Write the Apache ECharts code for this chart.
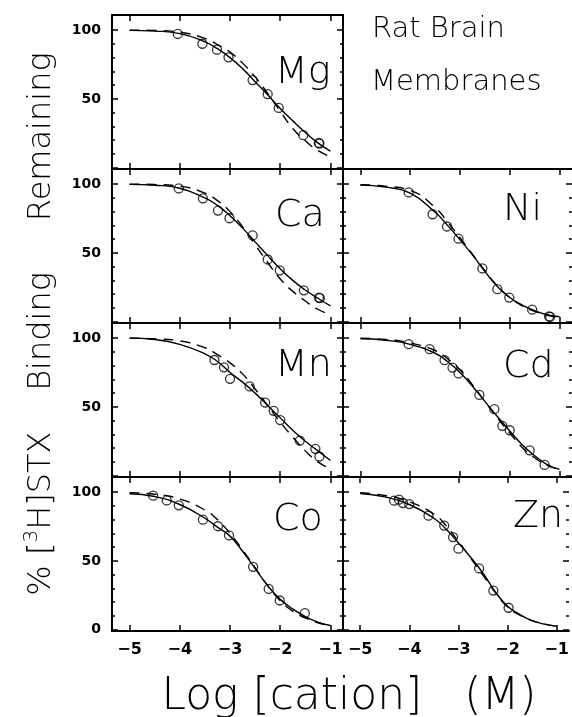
<!DOCTYPE html>
<html><head><meta charset="utf-8">
<script src="https://cdn.jsdelivr.net/npm/echarts@6/dist/echarts.min.js"></script>
<style>html,body{margin:0;padding:0;background:#fff}#c{width:572px;height:717px}</style>
</head><body><div id="c"></div>
<script>
// ---- data ----
const CURVE_X = [-5, -4.5, -4, -3.5, -3.25, -3, -2.75, -2.5, -2.25, -2, -1.75, -1.5, -1.25, -1];
const X_TICKS = [-5, -4, -3, -2, -1];
const Y_MAJOR = [0, 50, 100];
const Y_MINOR = [10, 20, 30, 40, 60, 70, 80, 90];

const MG_X = [-4.04, -3.55, -3.26, -3.03, -2.55, -2.25, -2.03, -1.54, -1.22, -1.23];
const MG_Y = [97.2, 90.1, 85.8, 80.2, 63.7, 53.5, 43.4, 23.6, 17.5, 18.0];
const MG_SOLID = [99.8, 99.3, 97.5, 91.5, 86.5, 80, 72, 62.5, 53, 43, 34, 25.5, 18, 12];
const MG_DASH = [100, 99.8, 98.5, 94, 89.5, 84, 76, 66, 54, 41, 28.5, 19.5, 12.5, 8];

const CA_X = [-4.02, -3.54, -3.24, -3.01, -2.55, -2.25, -2.01, -1.53, -1.21, -1.23];
const CA_Y = [96.9, 89.7, 80.8, 75.2, 62.7, 45.2, 37.3, 22.8, 17.1, 17.5];
const CA_SOLID = [99.8, 99.2, 97, 90, 84.5, 77, 68, 58, 48, 38.5, 30, 23, 17, 11.5];
const CA_DASH = [100, 99.7, 98.5, 93.5, 88, 80, 69, 56, 43, 31, 22, 15, 9, 5];

const NI_X = [-4.03, -3.55, -3.26, -3.03, -2.55, -2.25, -2.01, -1.55, -1.21, -1.19];
const NI_Y = [94.0, 78.1, 69.2, 60.3, 38.7, 23.6, 17.5, 8.7, 3.8, 3.4];
const NI_SOLID = [99.3, 97.8, 93.5, 79.5, 70, 59.5, 48.5, 36.5, 25.5, 17.5, 12, 8, 5, 3.5];
const NI_DASH = [99.5, 98.5, 95.5, 83, 72.5, 61, 49, 37, 26, 17.5, 11.5, 7.5, 4.5, 3];

const MN_X = [-3.31, -3.12, -3.0, -2.61, -2.30, -2.13, -2.0, -1.61, -1.30, -1.22];
const MN_Y = [84.1, 78.8, 70.4, 64.9, 53.1, 47.1, 40.4, 25.5, 19.5, 13.9];
const MN_SOLID = [100, 99, 95.5, 88.5, 83, 75, 68, 60, 51, 42, 33, 25, 18, 11];
const MN_DASH = [100, 99.5, 98, 93, 88, 82, 74, 63, 51, 39, 28, 18, 10, 5];

const CD_X = [-4.03, -3.61, -3.31, -3.15, -3.03, -2.61, -2.31, -2.15, -2.0, -1.6, -1.3];
const CD_Y = [95.6, 92.0, 84.0, 78.6, 74.3, 58.7, 48.3, 36.2, 33.0, 18.4, 7.8];
const CD_SOLID = [99.5, 98.5, 95.5, 89, 83, 75, 65, 54, 43, 32.5, 22.5, 14.5, 8, 4.5];
const CD_DASH = [100, 99, 96.5, 91, 85, 77, 66, 54, 42, 31, 20.5, 13, 7.5, 4.5];

const CO_X = [-4.53, -4.26, -4.02, -3.54, -3.24, -3.02, -2.54, -2.23, -2.01, -1.51];
const CO_Y = [97.4, 94.0, 90.4, 80.0, 75.2, 68.5, 45.7, 29.6, 21.2, 12.0];
const CO_SOLID = [98.8, 96.8, 91, 81, 74.5, 68, 57, 44.5, 32, 22, 15, 9.5, 5.5, 3];
const CO_DASH = [99.5, 98.5, 95, 87, 80, 70, 58, 45, 32, 21, 13.5, 8.5, 5, 3];

const ZN_X = [-4.31, -4.21, -4.13, -4.0, -3.61, -3.29, -3.11, -3.0, -2.58, -2.29, -1.98];
const ZN_Y = [93.8, 94.5, 92.1, 91.3, 82.9, 75.7, 67.3, 58.9, 44.5, 28.4, 15.9];
const ZN_SOLID = [99, 96.5, 91, 81, 73, 63, 52.5, 41, 27.5, 17, 11, 6.5, 4, 2.5];
const ZN_DASH = [99.5, 97.5, 93, 84, 75.5, 64, 52, 39.5, 27, 16.5, 10.5, 6.5, 4, 2.5];

// ---- layout ----
const XMIN = -5.35, XMAX = -0.75, YMIN = -1, YMAX = 111;
const ROW_TOP = [15, 169, 323, 477], ROW_H = 154;
const COL_LEFT = [112, 343], COL_W = [231, 232];

const panels = [
  {name: 'Mg', row: 0, col: 0, px: MG_X, py: MG_Y, solid: MG_SOLID, dash: MG_DASH, lx: 275, ly: 73.5},
  {name: 'Ca', row: 1, col: 0, px: CA_X, py: CA_Y, solid: CA_SOLID, dash: CA_DASH, lx: 275, ly: 216},
  {name: 'Ni', row: 1, col: 1, px: NI_X, py: NI_Y, solid: NI_SOLID, dash: NI_DASH, lx: 503, ly: 210},
  {name: 'Mn', row: 2, col: 0, px: MN_X, py: MN_Y, solid: MN_SOLID, dash: MN_DASH, lx: 275, ly: 366},
  {name: 'Cd', row: 2, col: 1, px: CD_X, py: CD_Y, solid: CD_SOLID, dash: CD_DASH, lx: 503, ly: 367.5},
  {name: 'Co', row: 3, col: 0, px: CO_X, py: CO_Y, solid: CO_SOLID, dash: CO_DASH, lx: 273, ly: 520.5},
  {name: 'Zn', row: 3, col: 1, px: ZN_X, py: ZN_Y, solid: ZN_SOLID, dash: ZN_DASH, lx: 513, ly: 517.5}
];

const TICK_FONT = 'DejaVu Sans';
const THIN_FONT = 'DejaVu Sans';
const tickLine = {color: '#000', width: 1.5};
const grid = [], xAxis = [], yAxis = [], series = [], graphic = [];

panels.forEach((p, i) => {
  // grid border drawn manually (left/top/bottom always; right only for left column)
  grid.push({left: COL_LEFT[p.col], top: ROW_TOP[p.row], width: COL_W[p.col], height: ROW_H, show: false});
  const bottomRow = p.row === 3;
  const leftCol = p.col === 0;
  const xi = xAxis.length, yi = yAxis.length;
  ['bottom', 'top'].forEach(pos => {
    xAxis.push({type: 'value', gridIndex: i, min: XMIN, max: XMAX, position: pos,
      axisLine: {show: true, onZero: false, lineStyle: {color: '#000', width: 2}}, splitLine: {show: false},
      axisTick: {show: true, inside: true, length: 6, customValues: X_TICKS, lineStyle: tickLine},
      axisLabel: {show: pos === 'bottom' && bottomRow, customValues: X_TICKS, margin: 11,
        fontFamily: TICK_FONT, fontWeight: 'bold', fontSize: 16, color: '#000',
        formatter: v => String(v).replace('-', '\u2212')}
    });
  });
  ['left', 'right'].forEach(pos => {
    const labVals = p.row === 3 ? Y_MAJOR : Y_MAJOR.filter(v => v > 0);
    const drawLine = pos === 'left' || leftCol;
    yAxis.push({type: 'value', gridIndex: i, min: YMIN, max: YMAX, position: pos,
      axisLine: {show: drawLine, onZero: false, lineStyle: {color: '#000', width: 2}}, splitLine: {show: false},
      axisTick: {show: true, inside: true, length: 6, customValues: Y_MAJOR, lineStyle: tickLine},
      axisLabel: {show: pos === 'left' && leftCol, customValues: labVals, margin: 11,
        fontFamily: TICK_FONT, fontWeight: 'bold', fontSize: 14, color: '#000'}
    });
    yAxis.push({type: 'value', gridIndex: i, min: YMIN, max: YMAX, position: pos,
      axisLine: {show: false}, splitLine: {show: false},
      axisTick: {show: true, inside: true, length: 3, customValues: Y_MINOR, lineStyle: tickLine},
      axisLabel: {show: false}
    });
  });
  series.push({type: 'line', xAxisIndex: xi, yAxisIndex: yi, smooth: true, showSymbol: false,
    data: CURVE_X.map((x, k) => [x, p.solid[k]]), lineStyle: {color: '#000', width: 1.4}, z: 2});
  series.push({type: 'line', xAxisIndex: xi, yAxisIndex: yi, smooth: true, showSymbol: false,
    data: CURVE_X.map((x, k) => [x, p.dash[k]]), lineStyle: {color: '#000', width: 1.4, type: [10, 7]}, z: 2});
  series.push({type: 'scatter', xAxisIndex: xi, yAxisIndex: yi, symbol: 'circle', symbolSize: 9,
    data: p.px.map((x, k) => [x, p.py[k]]),
    itemStyle: {color: 'rgba(0,0,0,0)', borderColor: '#000', borderWidth: 1.3}, z: 3});
  graphic.push({type: 'text', x: p.lx, y: p.ly, silent: true,
    style: {text: p.name, fontFamily: THIN_FONT, fontWeight: 200, fontSize: 38, fill: '#000',
      align: 'left', verticalAlign: 'middle'}});
});

const thin = (text, x, y, size) => ({type: 'text', x, y, silent: true,
  style: {text, fontFamily: THIN_FONT, fontWeight: 200, fontSize: size, fill: '#000', align: 'left', verticalAlign: 'middle'}});

graphic.push(thin('Rat Brain', 372, 29, 29));
graphic.push(thin('Membranes', 371, 82, 29));
graphic.push({type: 'text', x: 349, y: 698, silent: true,
  style: {text: 'Log [cation]   (M)', fontFamily: THIN_FONT, fontWeight: 200, fontSize: 44, fill: '#000',
    align: 'center', verticalAlign: 'middle'}});
graphic.push({type: 'text', x: 42, y: 324, rotation: Math.PI / 2, silent: true,
  style: {text: '% [{s|3}H]STX    Binding     Remaining', fontFamily: THIN_FONT, fontWeight: 200, fontSize: 32, fill: '#000',
    align: 'center', verticalAlign: 'middle',
    rich: {s: {fontFamily: THIN_FONT, fontWeight: 200, fontSize: 20, verticalAlign: 'top', lineHeight: 40}}}});

const chart = echarts.init(document.getElementById('c'), null, {renderer: 'canvas'});
chart.setOption({animation: false, backgroundColor: '#fff', grid, xAxis, yAxis, series, graphic});
</script></body></html>
